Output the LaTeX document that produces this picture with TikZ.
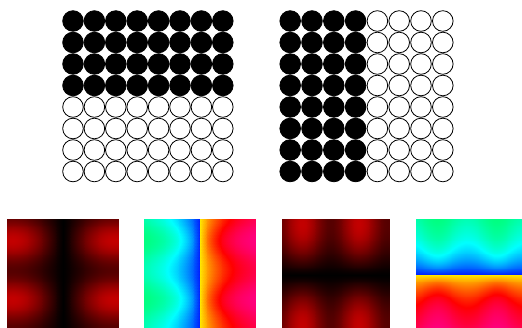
\documentclass[tikz,border=0pt]{standalone}
\usepackage{pgfplots}
\pgfplotsset{compat=1.18}
\pgfplotsset{
  colormap={ampmap}{rgb255=(0,0,0) rgb255=(195,0,0)},
  colormap={phasemap}{rgb=(1,0,1) rgb=(1,0,0) rgb=(1,1,0) rgb=(0,1,0) rgb=(0,1,1) rgb=(0,0,1) rgb=(1,0,1)},
  fieldmap/.style={width=112pt, height=108pt, scale only axis, hide axis, view={0}{90},
    xmin=0, xmax=1, ymin=0.036, ymax=1, anchor=south west},
  ampview/.style={fieldmap, colormap name=ampmap, point meta min=0, point meta max=1},
  phaseview/.style={fieldmap, colormap name=phasemap, point meta min=-0.16667, point meta max=0.83333},
  fieldplot/.style={surf, shader=interp, samples=41, samples y=41, y domain=0:1},
}

\begin{document}
\begin{tikzpicture}[x=1pt, y=1pt,
    dotbase/.style={circle, draw=black, line width=0.8pt, inner sep=0pt, minimum size=20.6pt},
]
\useasboundingbox (0,0) rectangle (522,327);

% left grid: upper four rows filled
\foreach \i in {0,...,7}
  \foreach \j in {0,...,7} {
    \ifnum\j<4 \def\dotfill{black}\else\def\dotfill{white}\fi
    \node[dotbase, fill=\dotfill] (rows-\i-\j) at (73+21.4*\i, 306-21.5*\j) {};
  }

% right grid: left four columns filled
\foreach \i in {0,...,7}
  \foreach \j in {0,...,7} {
    \ifnum\i<4 \def\dotfill{black}\else\def\dotfill{white}\fi
    \node[dotbase, fill=\dotfill] (cols-\i-\j) at (290.2+21.8*\i, 306-21.5*\j) {};
  }

% amplitude, vertical node line
\begin{axis}[ampview, name=ampA, at={(7pt,0pt)}]
\addplot3[fieldplot, domain=0:1] {sin(198*abs(x-0.5))^1.2*(0.72+0.28*cos(679.2*(0.81-y)))};
\end{axis}

% phase, vertical jump
\begin{axis}[phaseview, name=phaseA, at={(144pt,0pt)}]
\addplot3[fieldplot, domain=0:0.5, samples=31] {0.40+0.25*exp(-(0.5-x)/(0.25-0.065*cos(679.2*(0.81-y))))};
\addplot3[fieldplot, domain=0.5:1, samples=31] {-0.10+0.25*exp(-(x-0.5)/(0.25-0.065*cos(679.2*(0.81-y))))};
\end{axis}

% amplitude, horizontal node line
\begin{axis}[ampview, name=ampB, at={(281.3pt,0pt)}, width=108pt]
\addplot3[fieldplot, domain=0:1] {sin(198*abs(0.5-y))^1.2*(0.72+0.28*cos(679.2*(x-0.19)))};
\end{axis}

% phase, horizontal jump
\begin{axis}[phaseview, name=phaseB, at={(416pt,0pt)}, width=106pt, xmax=0.946]
\addplot3[fieldplot, domain=0:1, y domain=0.5:1, samples y=31] {0.40+0.25*exp(-(y-0.5)/(0.25-0.065*cos(679.2*(x-0.19))))};
\addplot3[fieldplot, domain=0:1, y domain=0:0.5, samples y=31] {-0.10+0.25*exp(-(0.5-y)/(0.25-0.065*cos(679.2*(x-0.19))))};
\end{axis}

\end{tikzpicture}
\end{document}
